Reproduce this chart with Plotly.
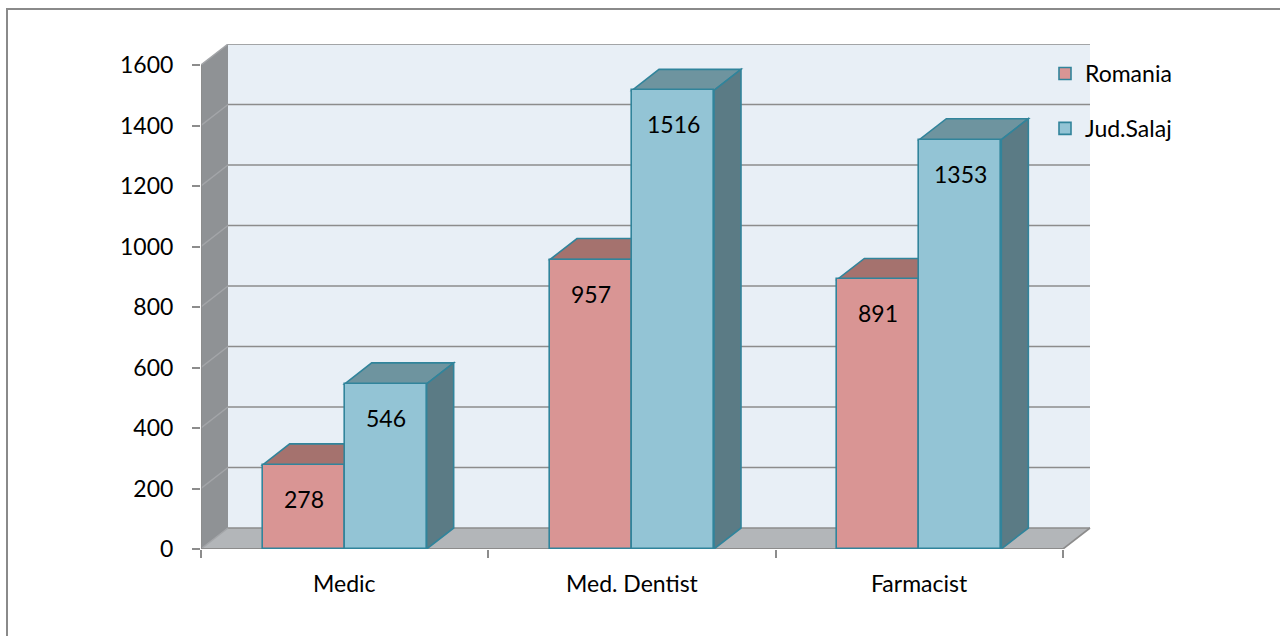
import plotly.graph_objects as go

# Data
categories = ["Medic", "Med. Dentist", "Farmacist"]
series_names = ["Romania", "Jud.Salaj"]
romania = [278, 957, 891]
jud_salaj = [546, 1516, 1353]
y_ticks = [0, 200, 400, 600, 800, 1000, 1200, 1400, 1600]

# Figure geometry (pixels)
W, H = 1280, 636
PLOT_L, PLOT_R, PLOT_T, PLOT_B = 201, 1092, 44, 549
CAT_PX = (1063 - 201) / 3          # width of one category on the front plane
UNIT_PX = (549 - 65) / 1600        # pixels per value unit on the front plane
DEPTH_PX = (27, 21)                # 3-D depth offset (right, up)

X_MAX = (PLOT_R - PLOT_L) / CAT_PX
Y_MAX = (PLOT_B - PLOT_T) / UNIT_PX
DX = DEPTH_PX[0] / CAT_PX
DY = DEPTH_PX[1] / UNIT_PX
BAR_W = 82 / CAT_PX

FONT = "Lato"
FS = 23

front_colors = ["#d99594", "#93c4d5"]
top_colors = ["#a5726e", "#6e949f"]
side_colors = ["#9a6a67", "#5b7b85"]
EDGE = "#31849b"
GRID = "#8c8c8c"

fig = go.Figure()

shapes = []


def poly(pts, fill, line_color=None, width=0, layer="below"):
    path = "M " + " L ".join(f"{x},{y}" for x, y in pts) + " Z"
    return dict(type="path", path=path, xref="x", yref="y", fillcolor=fill,
                line=dict(color=line_color or fill, width=width), layer=layer)


def seg(x0, y0, x1, y1, color=GRID, width=1.5):
    return dict(type="line", x0=x0, y0=y0, x1=x1, y1=y1, xref="x", yref="y",
                line=dict(color=color, width=width), layer="below")


top = y_ticks[-1]
n = len(categories)
# back wall
shapes.append(poly([(DX, DY), (n + DX, DY), (n + DX, top + DY), (DX, top + DY)], "#e8eff6"))
# left side wall
shapes.append(poly([(0, 0), (DX, DY), (DX, top + DY), (0, top)], "#8f9295"))
# floor
shapes.append(poly([(0, 0), (n, 0), (n + DX, DY), (DX, DY)], "#b3b6b9"))
# gridlines on back wall and side wall
for v in y_ticks:
    shapes.append(seg(DX, v + DY, n + DX, v + DY, GRID, 1.6))
    shapes.append(seg(0, v, DX, v + DY, "#a3a5a8", 1.4))
# floor front and right edges, value axis line
shapes.append(seg(0, 0, n, 0, GRID, 2))
shapes.append(seg(n, 0, n + DX, DY, GRID, 1.6))
shapes.append(seg(0, 0, 0, top, GRID, 1.6))

# bars: front faces as traces, top/side faces as shapes
series = [romania, jud_salaj]
offsets = [-BAR_W / 2, BAR_W / 2]
for s, (name, vals) in enumerate(zip(series_names, series)):
    xs = [i + 0.5 + offsets[s] for i in range(n)]
    fig.add_trace(go.Bar(
        x=xs, y=vals, width=BAR_W, name=name, legendgroup=name,
        marker=dict(color=front_colors[s], line=dict(color=EDGE, width=1.6)),
        hoverinfo="skip",
    ))
    for xc, v in zip(xs, vals):
        x0, x1 = xc - BAR_W / 2, xc + BAR_W / 2
        shapes.append(poly([(x0, v), (x1, v), (x1 + DX, v + DY), (x0 + DX, v + DY)],
                           top_colors[s], EDGE, 1.6))
        shapes.append(poly([(x1, 0), (x1, v), (x1 + DX, v + DY), (x1 + DX, DY)],
                           side_colors[s], EDGE, 1.6))

annotations = []
for s, vals in enumerate(series):
    for i, v in enumerate(vals):
        annotations.append(dict(
            x=i + 0.5 + offsets[s], y=v, text=str(v), showarrow=False,
            xref="x", yref="y", yanchor="middle", yshift=-34,
            font=dict(family=FONT, size=FS, color="#000000"),
        ))
for i, c in enumerate(categories):
    annotations.append(dict(
        x=i + 0.5, y=0, text=c, showarrow=False, xref="x", yref="y",
        yanchor="middle", yshift=-34,
        font=dict(family=FONT, size=FS, color="#000000"),
    ))

# outer chart frame
def px_to_paper_x(px):
    return (px - PLOT_L) / (PLOT_R - PLOT_L)


def px_to_paper_y(py):
    return (PLOT_B - py) / (PLOT_B - PLOT_T)


shapes.append(dict(type="rect", xref="paper", yref="paper",
                   x0=px_to_paper_x(7), x1=px_to_paper_x(W + 10),
                   y0=px_to_paper_y(H + 10), y1=px_to_paper_y(9),
                   line=dict(color="#8a8a8a", width=2), fillcolor="rgba(0,0,0,0)",
                   layer="below"))

fig.update_layout(
    width=W, height=H, autosize=False,
    margin=dict(l=PLOT_L, r=W - PLOT_R, t=PLOT_T, b=H - PLOT_B, pad=0),
    paper_bgcolor="#ffffff", plot_bgcolor="rgba(0,0,0,0)",
    barmode="overlay", bargap=0,
    shapes=shapes, annotations=annotations,
    font=dict(family=FONT, size=FS, color="#000000"),
    showlegend=True,
    legend=dict(
        x=px_to_paper_x(1045), y=px_to_paper_y(52), xanchor="left", yanchor="top",
        bgcolor="rgba(0,0,0,0)", borderwidth=0, traceorder="grouped",
        tracegroupgap=22, font=dict(family=FONT, size=FS, color="#000000"),
    ),
    xaxis=dict(
        range=[0, X_MAX], showgrid=False, zeroline=False, showline=False,
        tickvals=list(range(n + 1)), ticktext=[""] * (n + 1),
        ticks="outside", ticklen=8, tickwidth=1.6, tickcolor=GRID,
        fixedrange=True,
    ),
    yaxis=dict(
        range=[0, Y_MAX], showgrid=False, zeroline=False, showline=False,
        tickvals=y_ticks, ticks="outside", ticklen=8, tickwidth=1.6, tickcolor=GRID,
        ticklabelstandoff=14, tickfont=dict(family=FONT, size=FS, color="#000000"),
        fixedrange=True,
    ),
)

fig.write_html("out.html", config={"displayModeBar": False})
